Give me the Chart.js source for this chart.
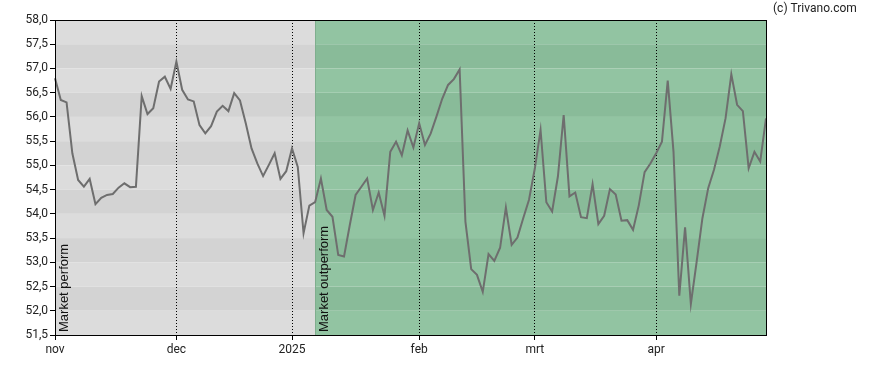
<!DOCTYPE html>
<html>
<head>
<meta charset="utf-8">
<script src="https://cdn.jsdelivr.net/npm/chart.js@4/dist/chart.umd.min.js"></script>
<style>
  html, body { margin: 0; padding: 0; background: #fff; }
  #wrap { width: 888px; height: 370px; }
</style>
</head>
<body>
<div id="wrap"><canvas id="lineChart"></canvas></div>
<script>
  'use strict';

  // koers per handelsdag (nov 2024 - apr 2025)
  var prices = [
    56.80, 56.35, 56.30, 55.25, 54.70, 54.56, 54.72, 54.20, 54.33, 54.39,
    54.41, 54.54, 54.63, 54.55, 54.56, 56.43, 56.06, 56.18, 56.73, 56.83,
    56.58, 57.14, 56.56, 56.36, 56.32, 55.83, 55.66, 55.81, 56.11, 56.23,
    56.12, 56.49, 56.34, 55.87, 55.35, 55.04, 54.78, 55.01, 55.25, 54.72,
    54.88, 55.35, 54.97, 53.60, 54.17, 54.24, 54.73, 54.08, 53.94, 53.15,
    53.12, 53.77, 54.39, 54.56, 54.73, 54.08, 54.44, 53.96, 55.28, 55.49,
    55.21, 55.72, 55.37, 55.87, 55.42, 55.66, 56.01, 56.38, 56.66, 56.78,
    56.98, 53.84, 52.86, 52.74, 52.39, 53.17, 53.03, 53.30, 54.13, 53.36,
    53.51, 53.91, 54.29, 54.93, 55.73, 54.24, 54.05, 54.77, 56.04, 54.36,
    54.44, 53.93, 53.91, 54.61, 53.79, 53.96, 54.51, 54.40, 53.86, 53.87,
    53.67, 54.18, 54.86, 55.04, 55.25, 55.49, 56.75, 55.28, 52.31, 53.72,
    52.14, 53.01, 53.91, 54.53, 54.91, 55.39, 55.97, 56.88, 56.25, 56.12,
    54.94, 55.28, 55.08, 55.97
  ];

  // eerste handelsdag van elke maand
  var monthStarts = [0, 21, 41, 63, 83, 104];
  var monthNames = ['nov', 'dec', '2025', 'feb', 'mrt', 'apr'];

  // vanaf deze dag: market outperform
  var outperformFrom = 45;
  var zoneTexts = ['Market perform', 'Market outperform'];

  var yTicks = [51.5, 52, 52.5, 53, 53.5, 54, 54.5, 55, 55.5, 56, 56.5, 57, 57.5, 58];

  var labels = prices.map(function(p, i) {
    var k = monthStarts.indexOf(i);
    return k >= 0 ? monthNames[k] : '';
  });

  var bandsPlugin = {
    id: 'bands',
    beforeDraw: function(chart) {
      var ctx = chart.ctx, area = chart.chartArea;
      var xs = chart.scales.x, ys = chart.scales.y;
      var xSplit = xs.getPixelForValue(outperformFrom);
      ctx.save();
      for (var i = 0; i < yTicks.length - 1; i++) {
        var yTop = ys.getPixelForValue(yTicks[yTicks.length - 1 - i]);
        var yBot = ys.getPixelForValue(yTicks[yTicks.length - 2 - i]);
        var dark = i % 2 === 1;
        ctx.fillStyle = dark ? '#d3d3d3' : '#dcdcdc';
        ctx.fillRect(area.left, yTop, xSplit - area.left, yBot - yTop);
        ctx.fillStyle = dark ? '#89bb99' : '#92c4a2';
        ctx.fillRect(xSplit, yTop, area.right - xSplit, yBot - yTop);
      }
      ctx.strokeStyle = '#7fae8e';
      ctx.lineWidth = 1;
      ctx.beginPath();
      ctx.moveTo(Math.round(xSplit) + 0.5, area.top);
      ctx.lineTo(Math.round(xSplit) + 0.5, area.bottom);
      ctx.stroke();
      ctx.restore();
    },
    beforeDatasetsDraw: function(chart) {
      var ctx = chart.ctx, area = chart.chartArea;
      var xs = chart.scales.x;
      var xSplit = xs.getPixelForValue(outperformFrom);
      ctx.save();
      ctx.fillStyle = '#111';
      ctx.font = '13px "Liberation Sans", Arial, sans-serif';
      ctx.textAlign = 'left';
      ctx.textBaseline = 'middle';
      [[area.left + 9, zoneTexts[0]], [xSplit + 9, zoneTexts[1]]].forEach(function(t) {
        ctx.save();
        ctx.translate(t[0], area.bottom - 3);
        ctx.rotate(-Math.PI / 2);
        ctx.fillText(t[1], 0, 0);
        ctx.restore();
      });
      ctx.restore();
    },
    afterDraw: function(chart) {
      var ctx = chart.ctx, area = chart.chartArea;
      ctx.save();
      ctx.strokeStyle = '#000';
      ctx.lineWidth = 1;
      ctx.strokeRect(Math.round(area.left) + 0.5, Math.round(area.top) + 0.5,
        Math.round(area.right - area.left), Math.round(area.bottom - area.top));
      ctx.fillStyle = '#222';
      ctx.font = '12px Roboto, sans-serif';
      ctx.textAlign = 'left';
      ctx.textBaseline = 'middle';
      ctx.fillText('(c) Trivano.com', 773, 9);
      ctx.restore();
    }
  };

  var isMonth = function(ctx) {
    return monthStarts.indexOf(ctx.index) >= 0;
  };

  var lineCanvas = document.getElementById('lineChart').getContext('2d');
  var lineChart = new Chart(lineCanvas, {
    type: 'line',
    data: {
      labels: labels,
      datasets: [{
        data: prices,
        borderColor: '#6e6e6e',
        borderWidth: 2,
        pointRadius: 0,
        tension: 0,
        fill: false
      }]
    },
    options: {
      responsive: true,
      maintainAspectRatio: false,
      animation: false,
      layout: { padding: { top: 20, right: 122, left: 0, bottom: 0 } },
      plugins: {
        legend: { display: false },
        tooltip: { enabled: false }
      },
      scales: {
        x: {
          type: 'category',
          offset: false,
          afterFit: function(scale) { scale.height = 35; },
          border: { display: true, color: '#000', width: 1, dash: [1, 2] },
          grid: {
            offset: false,
            drawOnChartArea: true,
            tickLength: 5,
            lineWidth: 1,
            tickBorderDash: [],
            color: function(ctx) {
              return isMonth(ctx) && ctx.index !== 0 ? '#000' : 'rgba(0,0,0,0)';
            },
            tickColor: function(ctx) {
              return isMonth(ctx) ? '#000' : 'rgba(0,0,0,0)';
            }
          },
          ticks: {
            autoSkip: false,
            maxRotation: 0,
            minRotation: 0,
            padding: 3,
            color: '#222',
            font: { family: 'Roboto, sans-serif', size: 12 },
            callback: function(v, i) { return labels[i]; }
          }
        },
        y: {
          min: 51.5,
          max: 58,
          afterFit: function(scale) { scale.width = 55; },
          afterBuildTicks: function(scale) {
            scale.ticks = yTicks.map(function(v) { return { value: v }; });
          },
          border: { display: true, color: '#000', width: 1 },
          grid: {
            drawOnChartArea: false,
            tickLength: 5,
            tickColor: '#000'
          },
          ticks: {
            padding: 2,
            color: '#222',
            font: { family: 'Roboto, sans-serif', size: 12 },
            callback: function(v) { return v.toFixed(1).replace('.', ','); }
          }
        }
      }
    },
    plugins: [bandsPlugin]
  });
</script>
</body>
</html>
